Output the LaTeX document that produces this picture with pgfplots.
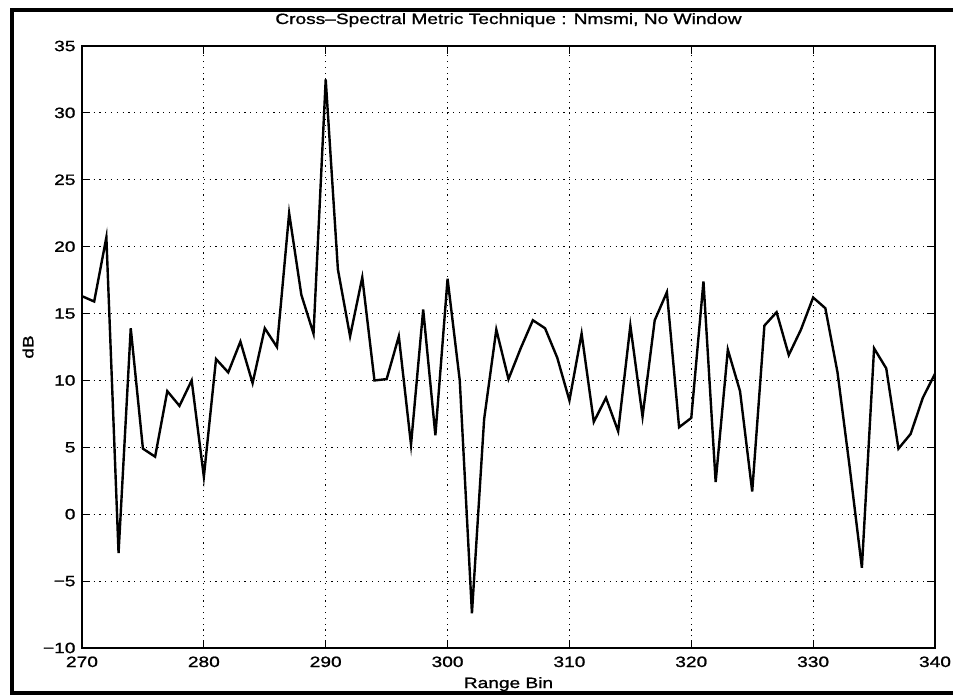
\documentclass[border=0pt]{standalone}
\usepackage{pgfplots}
\pgfplotsset{compat=1.18}
\usepackage{fontspec}
\setmainfont{Liberation Sans}[FakeStretch=1.28, FakeBold=1.2]
\begin{document}
\begin{tikzpicture}
\path[use as bounding box] (-82bp,-50bp) rectangle (871bp,648bp);
\draw[line width=4bp] (871bp,638bp) -- (-70bp,638bp) -- (-70bp,-45bp) -- (871bp,-45bp);
\begin{axis}[
  at={(0bp,0bp)}, anchor=south west,
  scale only axis, width=853bp, height=602bp,
  xmin=270, xmax=340, ymin=-10, ymax=35,
  xtick={270,280,...,340},
  ytick={-10,-5,0,5,10,15,20,25,30,35},
  yticklabels={−10,−5,0,5,10,15,20,25,30,35},
  /pgf/number format/assume math mode=true,
  /pgf/number format/1000 sep={},
  tick align=inside,
  major tick length=8bp,
  tick style={black, line width=1.1bp},
  axis line style={black, line width=1.5bp},
  grid=major,
  major grid style={black, line width=1.2bp, dash pattern=on 1.2bp off 4.6bp},
  ticklabel style={font=\fontsize{15}{17}\selectfont},
  xticklabel style={anchor=base, yshift=-19bp},
  yticklabel style={xshift=-3bp},
  title={Cross–Spectral Metric Technique : Nmsmi, No Window},
  title style={font=\fontsize{15}{17}\selectfont, anchor=base, at={(axis description cs:0.5,1)}, yshift=16bp},
  xlabel={Range Bin},
  xlabel style={font=\fontsize{15}{17}\selectfont, anchor=base, at={(axis description cs:0.5,0)}, yshift=-40bp},
  ylabel={dB},
  ylabel style={font=\fontsize{15}{17}\selectfont, anchor=center, at={(axis description cs:0,0.5)}, yshift=54bp},
]
\addplot[black, line width=2.4bp, line join=miter, mark=none] coordinates {
(270,16.3) (271,15.9) (272,20.7) (273,-2.9) (274,13.9) (275,4.9) (276,4.3) (277,9.2) (278,8.1) (279,10.0)
(280,2.8) (281,11.6) (282,10.6) (283,12.9) (284,9.8) (285,13.9) (286,12.5) (287,22.5) (288,16.4) (289,13.5)
(290,32.5) (291,18.3) (292,13.3) (293,17.7) (294,10.0) (295,10.1) (296,13.3) (297,5.2) (298,15.3) (299,5.9)
(300,17.6) (301,10.0) (302,-7.4) (303,7.1) (304,13.8) (305,10.1) (306,12.4) (307,14.5) (308,13.9) (309,11.7)
(310,8.5) (311,13.5) (312,6.9) (313,8.7) (314,6.2) (315,14.1) (316,7.3) (317,14.5) (318,16.6) (319,6.5)
(320,7.2) (321,17.4) (322,2.4) (323,12.3) (324,9.2) (325,1.7) (326,14.1) (327,15.1) (328,11.9) (329,13.8)
(330,16.2) (331,15.4) (332,10.6) (333,3.5) (334,-4.0) (335,12.4) (336,10.9) (337,4.9) (338,6.0) (339,8.7)
(340,10.5)
};
\end{axis}
\end{tikzpicture}
\end{document}
